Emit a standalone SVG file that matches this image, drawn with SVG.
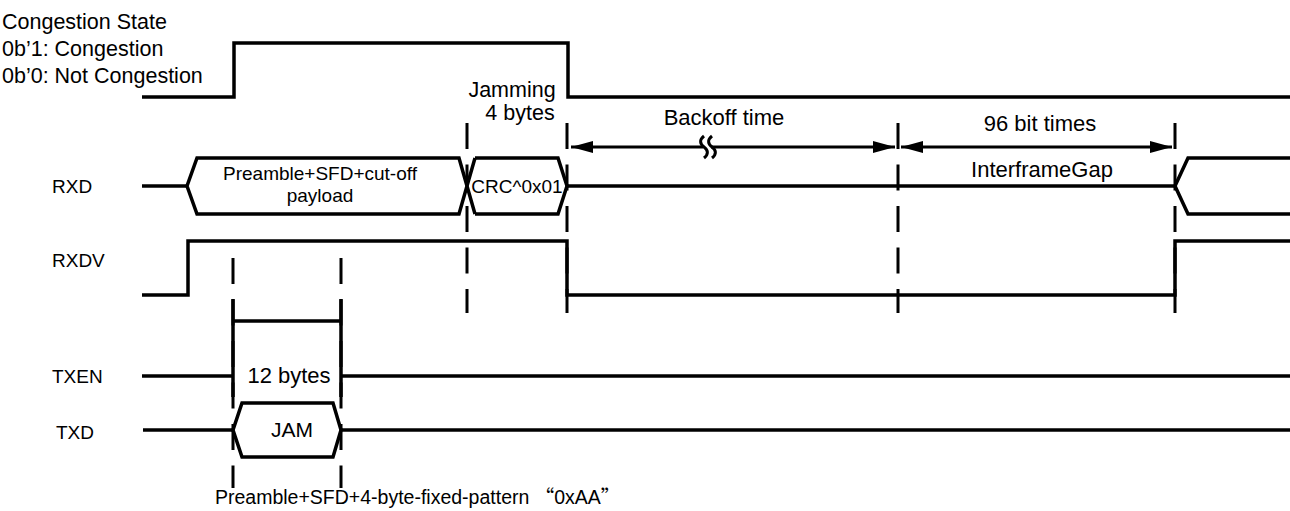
<svg xmlns="http://www.w3.org/2000/svg" width="1290" height="511" viewBox="0 0 1290 511">
<style>
.t{font-family:"Liberation Sans",Arial,sans-serif;fill:#000}
.w{fill:none;stroke:#000;stroke-width:3.5;stroke-linejoin:miter}
.d{fill:none;stroke:#000;stroke-width:3;stroke-dasharray:26 15.5}
.a{stroke:#000;stroke-width:3;fill:none}
.c{text-anchor:middle}
.q{font-family:"Noto Sans CJK SC","Liberation Sans",sans-serif}
.l{font-size:19px}
</style>
<defs>
<marker id="ah" viewBox="0 0 22 12" refX="22" refY="6" markerWidth="22" markerHeight="12" markerUnits="userSpaceOnUse" orient="auto-start-reverse"><path d="M0,0 L22,6 L0,12 z" fill="#000"/></marker>
</defs>
<rect width="1290" height="511" fill="#fff"/>

<g id="congestion">
<text class="t" x="2" y="29" font-size="21.5">Congestion State</text>
<text class="t" x="2" y="56" font-size="21.5">0b’1: Congestion</text>
<text class="t" x="2" y="83" font-size="21.5">0b’0: Not Congestion</text>
<path class="w" d="M142,97 H234 V43 H568 V97 H1290"/>
<text class="t c" x="512" y="97" font-size="21.5">Jamming</text>
<text class="t c" x="520" y="120" font-size="21.5">4 bytes</text>
</g>

<g id="rxd">
<text class="t l" x="52" y="193">RXD</text>
<path class="w" d="M142,186 H187"/>
<path class="w" d="M475,214 L459,158 H197 L187,186 L197,214 H459 L475,158"/>
<text class="t c" x="320" y="180" font-size="19">Preamble+SFD+cut-off</text>
<text class="t c" x="320" y="202" font-size="19">payload</text>
<path class="w" d="M475,158 H558 L567,186 L558,214 H475"/>
<text class="t c" x="517" y="193" font-size="19">CRC^0x01</text>
<path class="w" d="M567,186 H1175"/>
<path class="w" d="M1290,158 H1188 L1175,186 L1188,214 H1290"/>
</g>

<g id="rxdv">
<text class="t l" x="52" y="267">RXDV</text>
<path class="w" d="M142,295 H188 V241 H567 V295 H1175 V241 H1290"/>
</g>

<g id="txen">
<text class="t l" x="52" y="383">TXEN</text>
<path class="w" d="M142,376 H233"/>
<path class="w" d="M341,376 H1290"/>
<text class="t c" x="289" y="383" font-size="22">12 bytes</text>
</g>

<g id="txd">
<text class="t l" x="56" y="439">TXD</text>
<path class="w" d="M143,430 H233"/>
<path class="w" d="M242,403 H333 L341,430 L333,457 H242 L233,430 Z"/>
<text class="t c" x="292" y="437" font-size="21">JAM</text>
<path class="w" d="M341,430 H1290"/>
<text class="t" x="215" y="504" font-size="19.5">Preamble+SFD+4-byte-fixed-pattern <tspan class="q">“</tspan>0xAA<tspan class="q">”</tspan></text>
</g>

<g id="connectors">
<path class="d" d="M467,123 V313"/>
<path class="d" d="M567,123 V313"/>
<path class="d" d="M898,123 V313"/>
<path class="d" d="M1175,123 V313"/>
<path class="d" d="M233,258 V488"/>
<path class="d" d="M341,258 V488"/>
<path class="w" d="M233,299 V397 M341,299 V397 M233,321 H341"/>
<line class="a" x1="571" y1="147" x2="895" y2="147" marker-start="url(#ah)" marker-end="url(#ah)"/>
<line class="a" x1="901" y1="147" x2="1172" y2="147" marker-start="url(#ah)" marker-end="url(#ah)"/>
<rect x="703" y="140" width="8" height="14" fill="#fff"/>
<path class="a" d="M704,136 c-5,4 -4,8 0,11 c4,3 5,7 0,11 M712,136 c-5,4 -4,8 0,11 c4,3 5,7 0,11"/>
<text class="t c" x="724" y="125" font-size="22">Backoff time</text>
<text class="t c" x="1040" y="131" font-size="22">96 bit times</text>
<text class="t c" x="1042" y="177" font-size="22">InterframeGap</text>
</g>
</svg>
